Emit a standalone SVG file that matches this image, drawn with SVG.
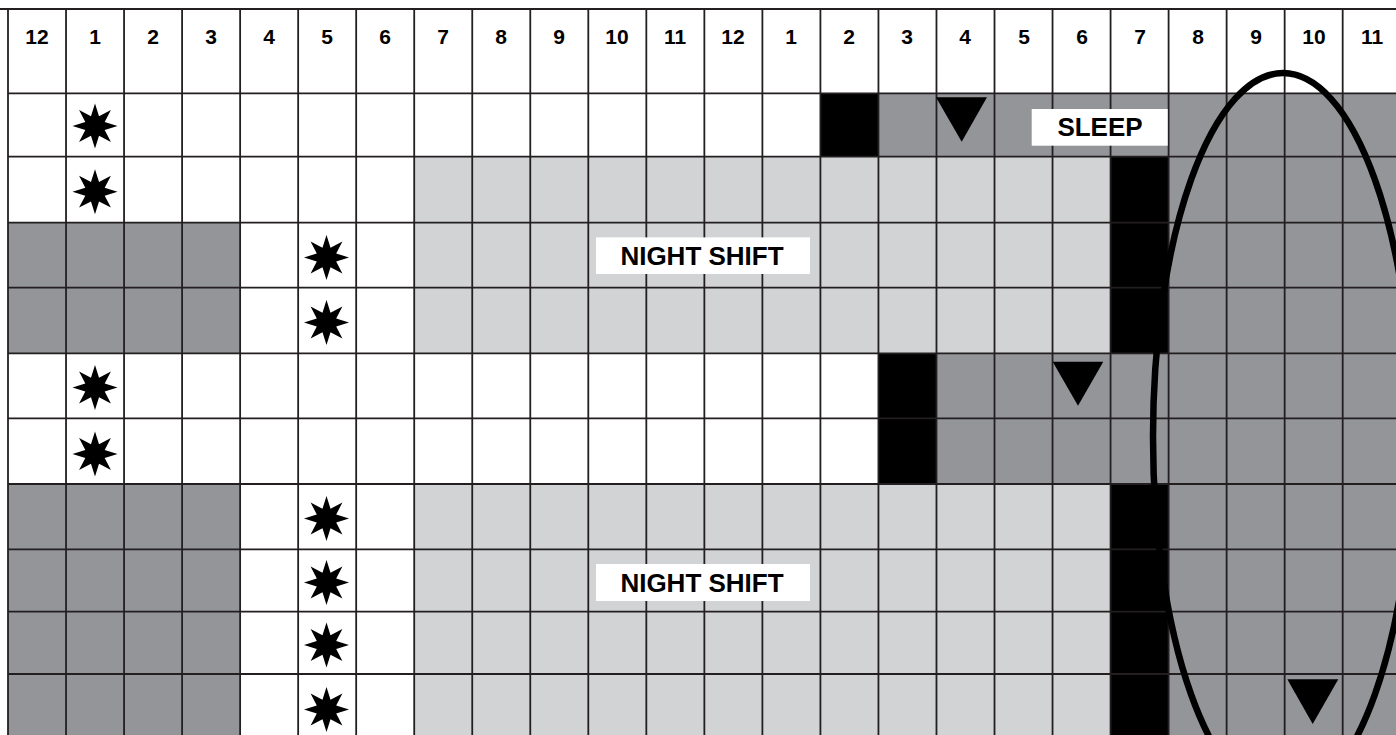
<svg xmlns="http://www.w3.org/2000/svg" xmlns:xlink="http://www.w3.org/1999/xlink" width="1396" height="735" viewBox="0 0 1396 735">
<style>
.dk{fill:#939598}
.lt{fill:#d1d3d4}
.bk{fill:#000}
.grid line{stroke:#231f20;stroke-width:1.8}
.hdr{font-family:"Liberation Sans",Arial,sans-serif;font-weight:bold;font-size:21px;fill:#000;text-anchor:middle}
.lbl{font-family:"Liberation Sans",Arial,sans-serif;font-weight:bold;font-size:26px;fill:#000;text-anchor:middle}
.box{fill:#fff}
</style>
<defs>
<path id="star" d="M0,-22.5 L4.02,-9.7 L15.91,-15.91 L9.7,-4.02 L22.5,0 L9.7,4.02 L15.91,15.91 L4.02,9.7 L0,22.5 L-4.02,9.7 L-15.91,15.91 L-9.7,4.02 L-22.5,0 L-9.7,-4.02 L-15.91,-15.91 L-4.02,-9.7 Z" fill="#000"/>
</defs>
<rect x="0" y="0" width="1396" height="735" fill="#fff"/>
<g id="cells">
<rect class="bk" x="820.42" y="93.3" width="58.03" height="63.4"/>
<rect class="dk" x="878.45" y="93.3" width="290.15" height="63.4"/>
<rect class="dk" x="1168.6" y="93.3" width="232.1" height="646.7"/>
<rect class="lt" x="414.21" y="156.7" width="696.36" height="196.6"/>
<rect class="bk" x="1110.57" y="156.7" width="58.03" height="196.6"/>
<rect class="dk" x="8" y="222.7" width="232.12" height="130.6"/>
<rect class="bk" x="878.45" y="353.3" width="58.03" height="130.7"/>
<rect class="dk" x="936.48" y="353.3" width="232.12" height="130.7"/>
<rect class="dk" x="8" y="484" width="232.12" height="256"/>
<rect class="lt" x="414.21" y="484" width="696.36" height="256"/>
<rect class="bk" x="1110.57" y="484" width="58.03" height="256"/>
</g>
<g id="grid" class="grid">
<line x1="0" y1="9" x2="1396" y2="9"/>
<line x1="8" y1="93.3" x2="1396" y2="93.3"/>
<line x1="8" y1="156.7" x2="1396" y2="156.7"/>
<line x1="8" y1="222.7" x2="1396" y2="222.7"/>
<line x1="8" y1="287.7" x2="1396" y2="287.7"/>
<line x1="8" y1="353.3" x2="1396" y2="353.3"/>
<line x1="8" y1="418.3" x2="1396" y2="418.3"/>
<line x1="8" y1="484" x2="1396" y2="484"/>
<line x1="8" y1="549.3" x2="1396" y2="549.3"/>
<line x1="8" y1="611.7" x2="1396" y2="611.7"/>
<line x1="8" y1="674" x2="1396" y2="674"/>
<line x1="8" y1="9" x2="8" y2="740"/>
<line x1="66.03" y1="9" x2="66.03" y2="740"/>
<line x1="124.06" y1="9" x2="124.06" y2="740"/>
<line x1="182.09" y1="9" x2="182.09" y2="740"/>
<line x1="240.12" y1="9" x2="240.12" y2="740"/>
<line x1="298.15" y1="9" x2="298.15" y2="740"/>
<line x1="356.18" y1="9" x2="356.18" y2="740"/>
<line x1="414.21" y1="9" x2="414.21" y2="740"/>
<line x1="472.24" y1="9" x2="472.24" y2="740"/>
<line x1="530.27" y1="9" x2="530.27" y2="740"/>
<line x1="588.3" y1="9" x2="588.3" y2="740"/>
<line x1="646.33" y1="9" x2="646.33" y2="740"/>
<line x1="704.36" y1="9" x2="704.36" y2="740"/>
<line x1="762.39" y1="9" x2="762.39" y2="740"/>
<line x1="820.42" y1="9" x2="820.42" y2="740"/>
<line x1="878.45" y1="9" x2="878.45" y2="740"/>
<line x1="936.48" y1="9" x2="936.48" y2="740"/>
<line x1="994.51" y1="9" x2="994.51" y2="740"/>
<line x1="1052.54" y1="9" x2="1052.54" y2="740"/>
<line x1="1110.57" y1="9" x2="1110.57" y2="740"/>
<line x1="1168.6" y1="9" x2="1168.6" y2="740"/>
<line x1="1226.63" y1="9" x2="1226.63" y2="740"/>
<line x1="1284.66" y1="9" x2="1284.66" y2="740"/>
<line x1="1342.69" y1="9" x2="1342.69" y2="740"/>
</g>
<g id="header">
<text class="hdr" x="37" y="43.5">12</text>
<text class="hdr" x="95" y="43.5">1</text>
<text class="hdr" x="153" y="43.5">2</text>
<text class="hdr" x="211" y="43.5">3</text>
<text class="hdr" x="269" y="43.5">4</text>
<text class="hdr" x="327" y="43.5">5</text>
<text class="hdr" x="385" y="43.5">6</text>
<text class="hdr" x="443" y="43.5">7</text>
<text class="hdr" x="501" y="43.5">8</text>
<text class="hdr" x="559" y="43.5">9</text>
<text class="hdr" x="617" y="43.5">10</text>
<text class="hdr" x="675" y="43.5">11</text>
<text class="hdr" x="733" y="43.5">12</text>
<text class="hdr" x="791" y="43.5">1</text>
<text class="hdr" x="849" y="43.5">2</text>
<text class="hdr" x="907" y="43.5">3</text>
<text class="hdr" x="965" y="43.5">4</text>
<text class="hdr" x="1024" y="43.5">5</text>
<text class="hdr" x="1082" y="43.5">6</text>
<text class="hdr" x="1140" y="43.5">7</text>
<text class="hdr" x="1198" y="43.5">8</text>
<text class="hdr" x="1256" y="43.5">9</text>
<text class="hdr" x="1314" y="43.5">10</text>
<text class="hdr" x="1372" y="43.5">11</text>
</g>
<g id="stars">
<use xlink:href="#star" x="95" y="126"/>
<use xlink:href="#star" x="95" y="191.7"/>
<use xlink:href="#star" x="326.5" y="257.5"/>
<use xlink:href="#star" x="326.5" y="322.5"/>
<use xlink:href="#star" x="95" y="387.5"/>
<use xlink:href="#star" x="95" y="454"/>
<use xlink:href="#star" x="326.5" y="518.5"/>
<use xlink:href="#star" x="326.5" y="582.5"/>
<use xlink:href="#star" x="326.5" y="645"/>
<use xlink:href="#star" x="326.5" y="709.5"/>
</g>
<g id="triangles" fill="#000">
<polygon points="936,97.3 987,97.3 961.7,141.7"/>
<polygon points="1052.7,361.7 1103.3,361.7 1078,405.7"/>
<polygon points="1287.3,679.3 1338.3,679.3 1312.7,724"/>
</g>
<g id="label-sleep">
<rect class="box" x="1031.7" y="109" width="136" height="36.7"/>
<text class="lbl" x="1100" y="136">SLEEP</text>
</g>
<g id="label-night-shift-1">
<rect class="box" x="596" y="237.4" width="214" height="36.6"/>
<text class="lbl" x="702" y="265">NIGHT SHIFT</text>
</g>
<g id="label-night-shift-2">
<rect class="box" x="596" y="564" width="214" height="37"/>
<text class="lbl" x="702" y="591.7">NIGHT SHIFT</text>
</g>
<g id="ellipse">
<ellipse cx="1283" cy="437" rx="130" ry="364" fill="none" stroke="#000" stroke-width="6.5"/>
</g>
</svg>
